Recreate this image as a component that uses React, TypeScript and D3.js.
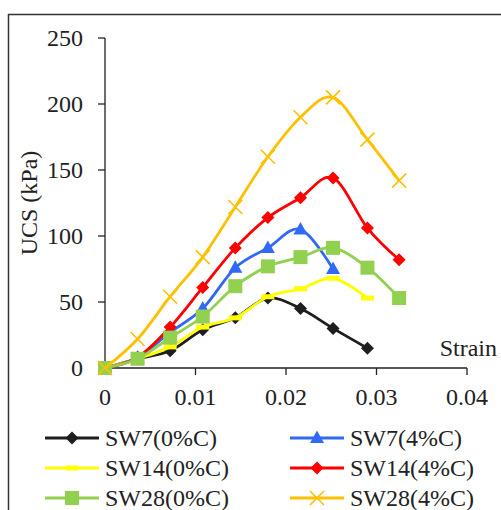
import React from "react";
import * as d3 from "d3";

const strain = [0, 0.0036, 0.0072, 0.0108, 0.0144, 0.018, 0.0216, 0.0252, 0.029, 0.0325];
const sw7_0 = [0, 7, 13, 29, 38, 53, 45, 30, 15];
const sw7_4 = [0, 8, 27, 45, 76, 91, 105, 75];
const sw14_0 = [0, 7, 16, 31, 38, 54, 60, 68, 53];
const sw14_4 = [0, 8, 31, 61, 91, 114, 129, 144, 106, 82];
const sw28_0 = [0, 7, 23, 39, 62, 77, 84, 91, 76, 53];
const sw28_4 = [0, 22, 54, 84, 122, 160, 190, 205, 173, 142];
const seriesNames = ["SW7(0%C)", "SW7(4%C)", "SW14(0%C)", "SW14(4%C)", "SW28(0%C)", "SW28(4%C)"];
const xTicks = [0, 0.01, 0.02, 0.03, 0.04];
const yTicks = [0, 50, 100, 150, 200, 250];

const colors = ["#1e1e1e", "#3169f5", "#ffff00", "#ff0000", "#92d050", "#ffc000"];
const markers = ["diamond", "triangle", "dash", "diamond", "square", "x"];

function Marker({ type, x, y, color }: { type: string; x: number; y: number; color: string }) {
  if (type === "diamond") {
    const s = 6.5;
    return <path d={`M${x},${y - s}L${x + s},${y}L${x},${y + s}L${x - s},${y}Z`} fill={color} />;
  }
  if (type === "triangle") {
    return <path d={`M${x},${y - 7.5}L${x + 7},${y + 5}L${x - 7},${y + 5}Z`} fill={color} />;
  }
  if (type === "square") {
    return <rect x={x - 7} y={y - 7} width={14} height={14} fill={color} />;
  }
  if (type === "dash") {
    return <rect x={x - 6.5} y={y - 2.5} width={13} height={5} fill={color} />;
  }
  const s = 7;
  return (
    <path d={`M${x - s},${y - s}L${x + s},${y + s}M${x - s},${y + s}L${x + s},${y - s}`} stroke={color} strokeWidth={1.6} fill="none" />
  );
}

export default function App() {
  const x = d3.scaleLinear().domain([0, 0.04]).range([105, 467]);
  const y = d3.scaleLinear().domain([0, 250]).range([368, 38]);
  const all = [sw7_0, sw7_4, sw14_0, sw14_4, sw28_0, sw28_4];
  const line = d3
    .line<number>()
    .x((_, i) => x(strain[i]))
    .y((d) => y(d))
    .curve(d3.curveCardinal.tension(0));

  const legendPos = [
    [45, 438],
    [290, 438],
    [45, 468],
    [290, 468],
    [45, 498],
    [290, 498],
  ];

  return (
    <svg width={501} height={510} style={{ position: "absolute", left: 0, top: 0 }}>
      <rect x={0} y={0} width={501} height={510} fill="#fff" />
      <path d="M8.5,520V14.5H520" stroke="#333" strokeWidth={1.5} fill="none" />
      <path d={`M${x(0)},${y(250)}V${y(0)}H${x(0.04)}`} stroke="#222" strokeWidth={1.3} fill="none" />
      {yTicks.map((t) => (
        <line key={"yt" + t} x1={98} x2={105} y1={y(t)} y2={y(t)} stroke="#222" strokeWidth={1.3} />
      ))}
      {yTicks.map((t) => (
        <text key={"yl" + t} x={83} y={y(t) + 8} style={{ fontFamily: "Liberation Serif", fontSize: "24px" }} textAnchor="end" fill="#222">
          {String(t)}
        </text>
      ))}
      {xTicks.map((t) => (
        <line key={"xt" + t} x1={x(t)} x2={x(t)} y1={368} y2={375} stroke="#222" strokeWidth={1.3} />
      ))}
      {xTicks.map((t) => (
        <text key={"xl" + t} x={x(t)} y={405} style={{ fontFamily: "Liberation Serif", fontSize: "24px" }} textAnchor="middle" fill="#222">
          {String(t)}
        </text>
      ))}
      <text x={497} y={356} style={{ fontFamily: "Liberation Serif", fontSize: "24px" }} textAnchor="end" fill="#222">
        Strain
      </text>
      <text
        transform={`translate(37,${(y(0) + y(250)) / 2}) rotate(-90)`}
        style={{ fontFamily: "Liberation Serif", fontSize: "24px" }}
        textAnchor="middle"
        fill="#222"
      >
        UCS (kPa)
      </text>
      {all.map((s, k) => (
        <g key={"s" + k}>
          <path d={line(s) || ""} stroke={colors[k]} strokeWidth={2.8} fill="none" />
          {s.map((v, i) => (
            <Marker key={i} type={markers[k]} x={x(strain[i])} y={y(v)} color={colors[k]} />
          ))}
        </g>
      ))}
      {seriesNames.map((n, k) => {
        const [lx, ly] = legendPos[k];
        return (
          <g key={"l" + k}>
            <line x1={lx} x2={lx + 54} y1={ly} y2={ly} stroke={colors[k]} strokeWidth={2.8} />
            <Marker type={markers[k]} x={lx + 27} y={ly} color={colors[k]} />
          </g>
        );
      })}
      {seriesNames.map((n, k) => (
        <text key={"lt" + k} x={legendPos[k][0] + 60} y={legendPos[k][1] + 8} style={{ fontFamily: "Liberation Serif", fontSize: "24px" }} fill="#222">
          {n}
        </text>
      ))}
    </svg>
  );
}
